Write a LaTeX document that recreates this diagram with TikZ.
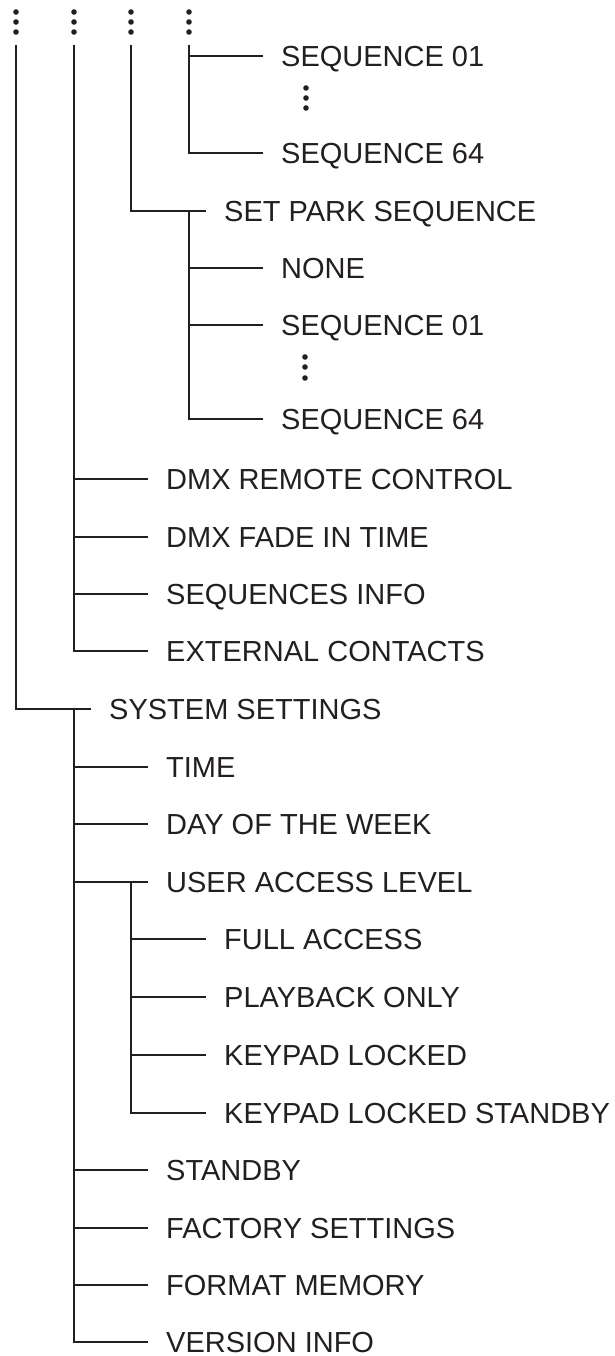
\documentclass[tikz,border=0pt]{standalone}
\usepackage{fontspec}
\setmainfont{Liberation Sans}
\definecolor{ink}{HTML}{231F20}
\begin{document}
\begin{tikzpicture}[x=1pt,y=-1pt,
  lbl/.style={anchor=west, inner sep=0pt, text height=20.7pt, text depth=0pt,
              font=\fontsize{29}{30}\selectfont, text=ink},
  dotc/.style={fill=ink, draw=none, circle, minimum size=5.6pt, inner sep=0pt},
  conn/.style={draw=ink, line width=2.3pt, line join=miter}]
\useasboundingbox (0,0) rectangle (614,1356);

% column tops
\coordinate (tA) at (16,45);
\coordinate (tB) at (74,45);
\coordinate (tC) at (131,45);
\coordinate (tD) at (189,45);

% continuation dots on top of columns
\foreach \c/\x in {a/16,b/74,c/131,d/189}{
  \node[dotc] (dt\c1) at (\x,12) {};
  \node[dotc] (dt\c2) at (\x,22) {};
  \node[dotc] (dt\c3) at (\x,32) {};
}

% labels
\node[lbl] (s1)   at (281,56)   {SEQUENCE 01};
\node[dotc] (sd1) at (306,88) {};
\node[dotc] (sd2) at (306,98) {};
\node[dotc] (sd3) at (306,108) {};
\node[lbl] (s64)  at (281,153)  {SEQUENCE 64};
\node[lbl] (park) at (224,211)  {SET PARK SEQUENCE};
\node[lbl] (none) at (281,268)  {NONE};
\node[lbl] (p01)  at (281,325)  {SEQUENCE 01};
\node[dotc] (pd1) at (305,357) {};
\node[dotc] (pd2) at (305,367) {};
\node[dotc] (pd3) at (305,378) {};
\node[lbl] (p64)  at (281,419)  {SEQUENCE 64};
\node[lbl] (dmxr) at (166,479)  {DMX REMOTE CONTROL};
\node[lbl] (dmxf) at (166,537)  {DMX FADE IN TIME};
\node[lbl] (seqi) at (166,594)  {SEQUENCES INFO};
\node[lbl] (ext)  at (166,651)  {EXTERNAL CONTACTS};
\node[lbl] (sys)  at (109,709)  {SYSTEM SETTINGS};
\node[lbl] (time) at (166,767)  {TIME};
\node[lbl] (day)  at (166,824)  {DAY OF THE WEEK};
\node[lbl] (ual)  at (166,882)  {USER ACCESS LEVEL};
\node[lbl] (full) at (224,939)  {FULL ACCESS};
\node[lbl] (play) at (224,997)  {PLAYBACK ONLY};
\node[lbl] (kl)   at (224,1055) {KEYPAD LOCKED};
\node[lbl] (kls)  at (224,1113) {KEYPAD LOCKED STANDBY};
\node[lbl] (stby) at (166,1170) {STANDBY};
\node[lbl] (fact) at (166,1228) {FACTORY SETTINGS};
\node[lbl] (fmt)  at (166,1285) {FORMAT MEMORY};
\node[lbl] (ver)  at (166,1342) {VERSION INFO};

% column D (top): sequences
\draw[conn] (tD) |- ([xshift=-18.5pt]s64.west);
\draw[conn] (tD |- s1.west) -- ([xshift=-18.5pt]s1.west);

% column C: set park sequence
\draw[conn] (tC) |- ([xshift=-18.5pt]park.west);
\draw[conn] (tD |- park.west) |- ([xshift=-18.5pt]p64.west);
\draw[conn] (tD |- none.west) -- ([xshift=-18.5pt]none.west);
\draw[conn] (tD |- p01.west) -- ([xshift=-18.5pt]p01.west);

% column B: DMX etc.
\draw[conn] (tB) |- ([xshift=-18.5pt]ext.west);
\draw[conn] (tB |- dmxr.west) -- ([xshift=-18.5pt]dmxr.west);
\draw[conn] (tB |- dmxf.west) -- ([xshift=-18.5pt]dmxf.west);
\draw[conn] (tB |- seqi.west) -- ([xshift=-18.5pt]seqi.west);

% column A: system settings
\draw[conn] (tA) |- ([xshift=-18.5pt]sys.west);
\draw[conn] (tB |- sys.west) |- ([xshift=-18.5pt]ver.west);
\draw[conn] (tB |- time.west) -- ([xshift=-18.5pt]time.west);
\draw[conn] (tB |- day.west) -- ([xshift=-18.5pt]day.west);
\draw[conn] (tB |- ual.west) -- ([xshift=-18.5pt]ual.west);
\draw[conn] (tB |- stby.west) -- ([xshift=-18.5pt]stby.west);
\draw[conn] (tB |- fact.west) -- ([xshift=-18.5pt]fact.west);
\draw[conn] (tB |- fmt.west) -- ([xshift=-18.5pt]fmt.west);

% user access level sub-branches
\draw[conn] (tC |- ual.west) |- ([xshift=-18.5pt]kls.west);
\draw[conn] (tC |- full.west) -- ([xshift=-18.5pt]full.west);
\draw[conn] (tC |- play.west) -- ([xshift=-18.5pt]play.west);
\draw[conn] (tC |- kl.west) -- ([xshift=-18.5pt]kl.west);
\end{tikzpicture}
\end{document}
